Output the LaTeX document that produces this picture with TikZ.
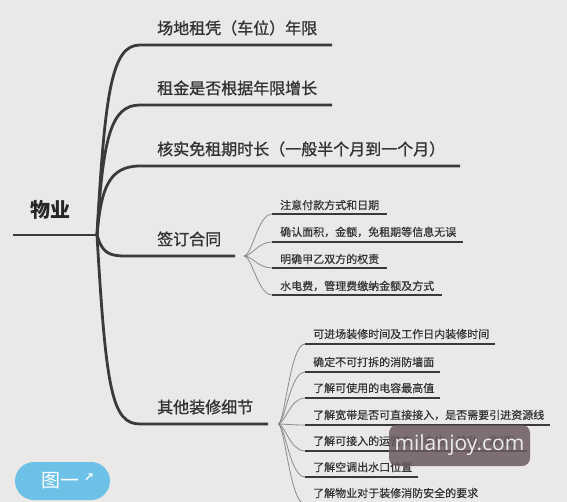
\documentclass[tikz,border=0pt]{standalone}
\usepackage{fontspec}
\usetikzlibrary{positioning}
\newfontfamily\cjk{Noto Sans CJK SC}
\newfontfamily\cjkmid[FakeBold=1.2]{Noto Sans CJK SC}
\newfontfamily\cjksub[FakeBold=0.5]{Noto Sans CJK SC}
\newfontfamily\markfont{Open Sans}
\newfontfamily\symfont{DejaVu Sans}
\definecolor{paper}{HTML}{EBE9E8}
\definecolor{ink}{HTML}{333333}
\definecolor{stem}{HTML}{3A3A3A}
\definecolor{twiggray}{HTML}{8C8C8C}
\definecolor{stamp}{HTML}{6A5A60}
\definecolor{badge}{HTML}{6DC1E6}

\tikzset{
  topic/.style={font=\cjkmid\fontsize{16}{18}\selectfont, text=ink, anchor=west, inner sep=0pt},
  detail/.style={font=\cjksub\fontsize{11}{13}\selectfont, text=ink, anchor=west, inner sep=0pt},
  limb/.style={stem, line width=2.8pt},
  twig/.style={twiggray, line width=0.8pt},
  rule/.style={stem, line width=2pt},
}

\begin{document}
\begin{tikzpicture}[x=1pt,y=-1pt]
  \fill[paper] (0,0) rectangle (567,502);
  \useasboundingbox (0,0) rectangle (567,502);
  \clip (0,0) rectangle (567,502);

  % Root
  \node[font=\cjk\bfseries\fontsize{20}{22}\selectfont, text=black!85, inner sep=0pt] (wuye) at (50,210) {物业};
  \coordinate (tail) at (13,235);
  \coordinate (hub) at (97,235);
  \draw[limb] (tail) -- (hub);

  % Topics
  \node[topic] (lease) at (157,28) {场地租凭（车位）年限};
  \node[topic] (rent) at (157,88) {租金是否根据年限增长};
  \node[topic] (free) at (157,149) {核实免租期时长（一般半个月到一个月）};
  \node[topic] (sign) at (157,239) {签订合同};
  \node[topic] (other) at (157,407) {其他装修细节};

  \coordinate (lease-a) at (140,45);  \coordinate (lease-b) at (332,45);
  \coordinate (rent-a) at (140,105);  \coordinate (rent-b) at (332,105);
  \coordinate (free-a) at (140,166);  \coordinate (free-b) at (460,166);
  \coordinate (sign-a) at (125,256);  \coordinate (sign-b) at (235,256);
  \coordinate (other-a) at (140,424); \coordinate (other-b) at (268,424);

  \draw[limb] (hub) .. controls (105,90) and (112,45) .. (lease-a) -- (lease-b);
  \draw[limb] (hub) .. controls (103,140) and (110,105) .. (rent-a) -- (rent-b);
  \draw[limb] (hub) .. controls (101,190) and (108,166) .. (free-a) -- (free-b);
  \draw[limb] (hub) .. controls (102,252) and (108,256) .. (sign-a) -- (sign-b);
  \draw[limb] (hub) .. controls (106,390) and (112,424) .. (other-a) -- (other-b);

  % Contract details
  \coordinate (sign-hub) at (244,256);
  \node[detail] (pay) at (280,205) {注意付款方式和日期};
  \node[detail] (area) at (280,232) {确认面积，金额，免租期等信息无误};
  \node[detail] (duty) at (280,259) {明确甲乙双方的权责};
  \node[detail] (fees) at (280,286) {水电费，管理费缴纳金额及方式};

  \coordinate (pay-a) at (272,214);  \coordinate (pay-b) at (387,214);
  \coordinate (area-a) at (272,242); \coordinate (area-b) at (463,242);
  \coordinate (duty-a) at (272,268); \coordinate (duty-b) at (387,268);
  \coordinate (fees-a) at (272,295); \coordinate (fees-b) at (442,295);

  \draw[twig] (sign-hub) .. controls +(8,0) and +(-14,0) .. (pay-a);
  \draw[twig] (sign-hub) .. controls +(8,0) and +(-14,0) .. (area-a);
  \draw[twig] (sign-hub) .. controls +(8,0) and +(-14,0) .. (duty-a);
  \draw[twig] (sign-hub) .. controls +(8,0) and +(-14,0) .. (fees-a);
  \draw[rule] (pay-a) -- (pay-b);
  \draw[rule] (area-a) -- (area-b);
  \draw[rule] (duty-a) -- (duty-b);
  \draw[rule] (fees-a) -- (fees-b);

  % Fit-out details
  \coordinate (other-hub) at (278,424);
  \node[detail] (entry) at (313,334) {可进场装修时间及工作日内装修时间};
  \node[detail] (wall) at (313,362) {确定不可打拆的消防墙面};
  \node[detail] (power) at (313,388) {了解可使用的电容最高值};
  \node[detail] (net) at (313,415) {了解宽带是否可直接接入，是否需要引进资源线};
  \node[detail] (isp) at (313,441) {了解可接入的运营商（电信，移动，联通）};
  \node[detail] (drain) at (313,467) {了解空调出水口位置};
  \node[detail] (fire) at (313,493) {了解物业对于装修消防安全的要求};

  \coordinate (entry-a) at (305,344); \coordinate (entry-b) at (495,344);
  \coordinate (wall-a) at (305,372);  \coordinate (wall-b) at (440,372);
  \coordinate (power-a) at (305,398); \coordinate (power-b) at (440,398);
  \coordinate (net-a) at (305,425);   \coordinate (net-b) at (550,425);
  \coordinate (isp-a) at (305,451);   \coordinate (isp-b) at (527,451);
  \coordinate (drain-a) at (305,477); \coordinate (drain-b) at (418,477);
  \coordinate (fire-a) at (305,504);  \coordinate (fire-b) at (480,504);

  \draw[twig] (other-hub) .. controls +(7,0) and +(-15,0) .. (entry-a);
  \draw[twig] (other-hub) .. controls +(7,0) and +(-15,0) .. (wall-a);
  \draw[twig] (other-hub) .. controls +(7,0) and +(-15,0) .. (power-a);
  \draw[twig] (other-hub) .. controls +(7,0) and +(-15,0) .. (net-a);
  \draw[twig] (other-hub) .. controls +(7,0) and +(-15,0) .. (isp-a);
  \draw[twig] (other-hub) .. controls +(7,0) and +(-15,0) .. (drain-a);
  \draw[twig] (other-hub) .. controls +(7,0) and +(-15,0) .. (fire-a);
  \draw[rule] (entry-a) -- (entry-b);
  \draw[rule] (wall-a) -- (wall-b);
  \draw[rule] (power-a) -- (power-b);
  \draw[rule] (net-a) -- (net-b);
  \draw[rule] (isp-a) -- (isp-b);
  \draw[rule] (drain-a) -- (drain-b);
  \draw[rule] (fire-a) -- (fire-b);

  % Watermark
  \node[fill=stamp, fill opacity=0.86, text opacity=1, rounded corners=8pt,
    minimum width=141pt, minimum height=41pt, text=white!92!black,
    font=\markfont\fontsize{21}{24}\selectfont] (mark) at (459.5,445.5) {milanjoy.com};

  % Figure badge
  \node[fill=badge, rounded corners=19pt, minimum width=95pt, minimum height=38pt] (fig) at (62.5,481) {};
  \node[text=white, inner sep=0pt, font=\cjk\fontsize{19}{21}\selectfont] (figlabel) at (68,481)
    {图一\kern4pt\raisebox{6pt}{\symfont\bfseries\fontsize{12}{12}\selectfont ↗}};
\end{tikzpicture}
\end{document}
